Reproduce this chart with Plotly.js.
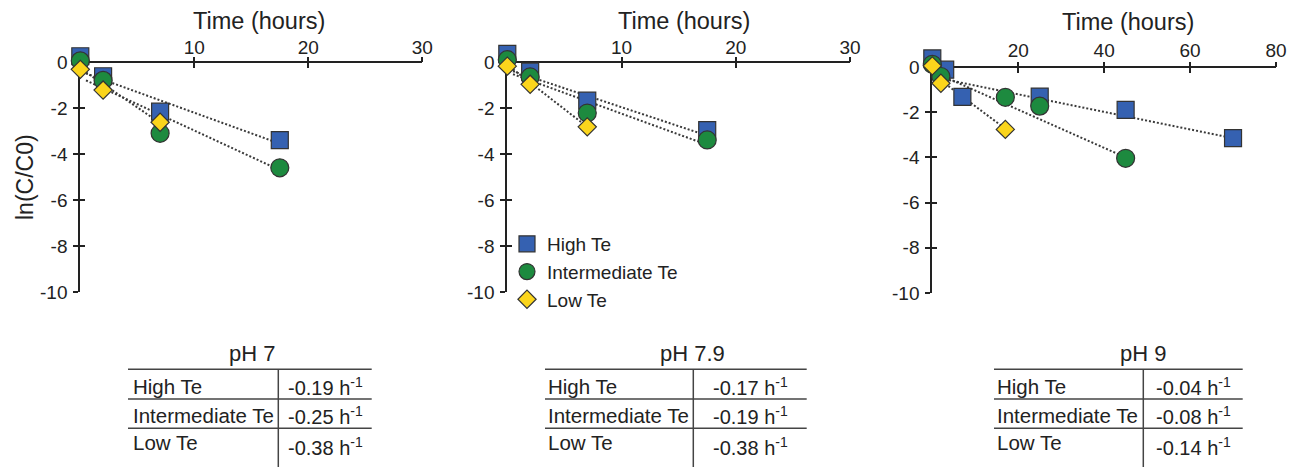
<!DOCTYPE html>
<html><head><meta charset="utf-8">
<script src="https://cdn.plot.ly/plotly-3.0.1.min.js"></script>
<style>html,body{margin:0;padding:0;background:#fff}#chart{width:1306px;height:467px}</style>
</head><body><div id="chart"></div>
<script>
// ---------- data ----------
const seriesNames = ["High Te", "Intermediate Te", "Low Te"];
const phLabels = ["pH 7", "pH 7.9", "pH 9"];
const xTickVals_short = [10, 20, 30];
const xTickVals_long = [20, 40, 60, 80];
const yTickVals = [0, -2, -4, -6, -8, -10];

// pH 7
const t_pH7_high = [0, 2, 7, 17.5];  const v_pH7_high = [0.25, -0.62, -2.16, -3.4];
const t_pH7_int  = [0, 2, 7, 17.5];  const v_pH7_int  = [0.05, -0.8, -3.1, -4.6];
const t_pH7_low  = [0, 2, 7];        const v_pH7_low  = [-0.32, -1.22, -2.62];
const fit_t_pH7_high = [0.5, 17.5];  const fit_v_pH7_high = [-0.5, -3.55];
const fit_t_pH7_int  = [0.5, 17.5];  const fit_v_pH7_int  = [-0.8, -4.7];
const fit_t_pH7_low  = [0.5, 7];     const fit_v_pH7_low  = [-0.45, -2.65];
const rates_pH7 = [-0.19, -0.25, -0.38];

// pH 7.9
const t_pH79_high = [0, 2, 7, 17.5]; const v_pH79_high = [0.35, -0.42, -1.68, -2.96];
const t_pH79_int  = [0, 2, 7, 17.5]; const v_pH79_int  = [0.1, -0.65, -2.22, -3.39];
const t_pH79_low  = [0, 2, 7];       const v_pH79_low  = [-0.18, -0.97, -2.82];
const fit_t_pH79_high = [0.5, 17.5]; const fit_v_pH79_high = [-0.4, -3.2];
const fit_t_pH79_int  = [0.5, 17.5]; const fit_v_pH79_int  = [-0.53, -3.6];
const fit_t_pH79_low  = [0.5, 7];    const fit_v_pH79_low  = [-0.32, -2.82];
const rates_pH79 = [-0.17, -0.19, -0.38];

// pH 9
const t_pH9_high = [0, 3, 7, 25, 45, 70]; const v_pH9_high = [0.38, -0.12, -1.32, -1.31, -1.9, -3.15];
const t_pH9_int  = [0, 2, 17, 25, 45];    const v_pH9_int  = [0.12, -0.42, -1.34, -1.73, -4.04];
const t_pH9_low  = [0, 2, 17];            const v_pH9_low  = [0.05, -0.72, -2.76];
const fit_t_pH9_high = [3, 70];  const fit_v_pH9_high = [-0.55, -3.15];
const fit_t_pH9_int  = [3, 45];  const fit_v_pH9_int  = [-0.45, -4.0];
const fit_t_pH9_low  = [3, 17.2]; const fit_v_pH9_low = [-0.74, -2.76];
const rates_pH9 = [-0.04, -0.08, -0.14];

// ---------- styling ----------
const W = 1306, H = 467;
const px = x => x / W;
const py = y => 1 - y / H;
const FONT = "Arial, 'Liberation Sans', sans-serif";
const TXT = "#222";
const AX = "#222";
const colors = ["#3561b1", "#1d8a3f", "#fbd51c"];
const symbols = ["square", "circle", "diamond"];
const sizes = [17, 18, 14];
const Y_RANGE = [-10, 0.5];

// y0: pixel of value 0, y10: pixel of value -10
const panels = [
  {sfx: "",  ov: 4, x0: 80.3, x1: 422.3, y0: 62, y10: 292, xr: [0, 30], xt: xTickVals_short, titleX: 259, titleY: 21, xso: -1,
   data: [[t_pH7_high, v_pH7_high], [t_pH7_int, v_pH7_int], [t_pH7_low, v_pH7_low]],
   fits: [[fit_t_pH7_high, fit_v_pH7_high], [fit_t_pH7_int, fit_v_pH7_int], [fit_t_pH7_low, fit_v_pH7_low]],
   rates: rates_pH7, tbl: {left: 128, right: 371.7, div: 278.3, textLeft: 130.7, titleX: 251.7}},
  {sfx: "2", ov: 5, x0: 507.3, x1: 850, y0: 62, y10: 292, xr: [0, 30], xt: xTickVals_short, titleX: 684, titleY: 21, xso: -1,
   data: [[t_pH79_high, v_pH79_high], [t_pH79_int, v_pH79_int], [t_pH79_low, v_pH79_low]],
   fits: [[fit_t_pH79_high, fit_v_pH79_high], [fit_t_pH79_int, fit_v_pH79_int], [fit_t_pH79_low, fit_v_pH79_low]],
   rates: rates_pH79, tbl: {left: 545, right: 806.7, div: 693.3, textLeft: 546, titleX: 692.5}},
  {sfx: "3", ov: 6, x0: 932.3, x1: 1276, y0: 67, y10: 293, xr: [0, 80], xt: xTickVals_long, titleX: 1127.5, titleY: 22, xso: 1,
   data: [[t_pH9_high, v_pH9_high], [t_pH9_int, v_pH9_int], [t_pH9_low, v_pH9_low]],
   fits: [[fit_t_pH9_high, fit_v_pH9_high], [fit_t_pH9_int, fit_v_pH9_int], [fit_t_pH9_low, fit_v_pH9_low]],
   rates: rates_pH9, tbl: {left: 994, right: 1242.7, div: 1143.3, textLeft: 995, titleX: 1143}}
];

const traces = [];
const layout = {
  width: W, height: H, margin: {l: 0, r: 0, t: 0, b: 0},
  paper_bgcolor: "#fff", plot_bgcolor: "rgba(0,0,0,0)",
  font: {family: FONT, color: TXT, size: 19},
  showlegend: true,
  legend: {x: px(507), y: py(225), xanchor: "left", yanchor: "top", bgcolor: "rgba(0,0,0,0)",
           font: {family: FONT, size: 19, color: TXT}, itemsizing: "trace", tracegroupgap: 0, borderwidth: 0},
  shapes: [], annotations: []
};

panels.forEach((p, pi) => {
  const xa = "x" + p.sfx, ya = "y" + p.sfx;
  p.fits.forEach((f) => {
    traces.push({type: "scatter", mode: "lines", x: f[0], y: f[1], xaxis: xa, yaxis: ya,
      line: {color: "#3a3a3a", width: 2, dash: "2px,2px"}, showlegend: false, hoverinfo: "skip"});
  });
  p.data.forEach((d, si) => {
    traces.push({type: "scatter", mode: "markers", name: seriesNames[si], x: d[0], y: d[1],
      xaxis: xa, yaxis: ya, cliponaxis: false, legendgroup: seriesNames[si], showlegend: pi === 1,
      marker: {symbol: symbols[si], size: sizes[si], color: colors[si], line: {color: "#333", width: 1.2}}});
  });
  const pxPerUnit = (p.y10 - p.y0) / 10;
  const yTopPx = p.y0 - Y_RANGE[1] * pxPerUnit;
  const xDom = [px(p.x0), px(p.x1)];
  const yDom = [py(p.y10), py(yTopPx)];
  const xPos = py(p.y0);
  layout["xaxis" + p.sfx] = {domain: xDom, range: p.xr, anchor: "free", position: xPos, side: "top",
    showgrid: false, zeroline: false, layer: "below traces",
    showline: true, linecolor: AX, linewidth: 2, ticks: "inside", ticklen: 5, tickwidth: 2, tickcolor: AX,
    tickmode: "array", tickvals: p.xt, ticktext: p.xt.map(String), tickfont: {size: 19, color: TXT},
    ticklabelstandoff: p.xso, fixedrange: true};
  layout["yaxis" + p.sfx] = {domain: yDom, range: Y_RANGE, anchor: xa, showgrid: false, zeroline: false,
    layer: "below traces",
    showline: true, linecolor: AX, linewidth: 2, ticks: "outside", ticklen: 5, tickwidth: 2, tickcolor: AX,
    tickmode: "array", tickvals: yTickVals, ticktext: yTickVals.map(String), tickfont: {size: 19, color: TXT},
    ticklabelstandoff: 2, fixedrange: true};
  layout["xaxis" + p.ov] = {overlaying: xa, anchor: "free", position: xPos, side: "top", range: p.xr,
    showgrid: false, zeroline: false, layer: "below traces",
    showline: false, ticks: "outside", ticklen: 5, tickwidth: 2, tickcolor: AX, tickmode: "array",
    tickvals: p.xt, showticklabels: false, fixedrange: true};
  layout["yaxis" + p.ov] = {overlaying: ya, anchor: xa, range: Y_RANGE, showgrid: false, zeroline: false,
    layer: "below traces",
    showline: false, ticks: "inside", ticklen: 5, tickwidth: 2, tickcolor: AX, tickmode: "array",
    tickvals: yTickVals, showticklabels: false, fixedrange: true};
  traces.push({type: "scatter", mode: "markers", x: [], y: [], xaxis: "x" + p.ov, yaxis: "y" + p.ov,
    showlegend: false, hoverinfo: "skip"});

  layout.annotations.push({text: "Time (hours)", xref: "paper", yref: "paper", x: px(p.titleX), y: py(p.titleY),
    xanchor: "center", yanchor: "middle", showarrow: false, font: {size: 23.5, color: TXT, family: FONT}});

  // rate table
  const t = p.tbl;
  const lc = {color: "#444", width: 1.5};
  [369.3, 399, 428.3].forEach(yy => layout.shapes.push({type: "line", xref: "paper", yref: "paper",
    x0: px(t.left), x1: px(t.right), y0: py(yy), y1: py(yy), line: lc}));
  layout.shapes.push({type: "line", xref: "paper", yref: "paper", x0: px(t.div), x1: px(t.div),
    y0: py(369.3), y1: py(467), line: lc});
  layout.annotations.push({text: phLabels[pi], xref: "paper", yref: "paper", x: px(t.titleX), y: py(353),
    xanchor: "center", yanchor: "middle", showarrow: false, font: {size: 22, color: TXT, family: FONT}});
  const rowY = [386.7, 415.7, 442.3], valY = [386.7, 415.7, 446];
  seriesNames.forEach((s, si) => {
    layout.annotations.push({text: s, xref: "paper", yref: "paper", x: px(t.textLeft), y: py(rowY[si]),
      xanchor: "left", yanchor: "middle", showarrow: false, font: {size: 20.5, color: TXT, family: FONT}});
    layout.annotations.push({text: p.rates[si].toFixed(2) + " h<sup>-1</sup>", xref: "paper", yref: "paper",
      x: px((t.div + t.right) / 2), y: py(valY[si]), xanchor: "center", yanchor: "middle", showarrow: false,
      font: {size: 20, color: TXT, family: FONT}});
  });
});

layout.annotations.push({text: "ln(C/C0)", xref: "paper", yref: "paper", x: px(25), y: py(177), textangle: -90,
  xanchor: "center", yanchor: "middle", showarrow: false, font: {size: 23, color: TXT, family: FONT}});

Plotly.newPlot("chart", traces, layout, {displayModeBar: false, staticPlot: true});
</script></body></html>
